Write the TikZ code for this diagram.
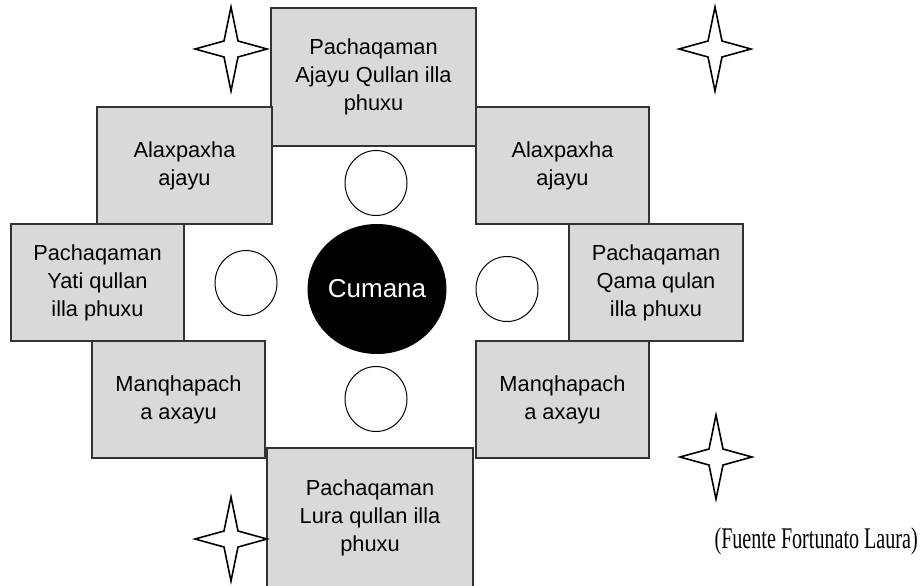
\documentclass[tikz,border=0pt]{standalone}
\usepackage{fontspec}
\setmainfont{Liberation Serif}
\setsansfont{Liberation Sans}
\usetikzlibrary{shapes.geometric}
\definecolor{boxfill}{HTML}{D9D9D9}
\definecolor{boxline}{HTML}{333333}
\tikzset{
  plot/.style={draw=boxline, fill=boxfill, line width=0.7pt, rectangle, align=center,
    inner sep=0pt, font=\sffamily\fontsize{10.9}{14}\selectfont},
  seat/.style={draw, ellipse, line width=0.5pt, minimum width=31pt, minimum height=32.5pt, inner sep=0pt},
  starline/.style={draw, line width=0.8pt, line join=miter}
}
\begin{document}
\begin{tikzpicture}[x=0.5pt, y=-0.5pt]
  \useasboundingbox (0,0) rectangle (921,585);
  \begin{scope}
  \clip (0,0) rectangle (921,585);
  % plots round the cumana
  \node[plot, minimum width=102.5pt, minimum height=69pt] (ajayu) at (373.5,77) {Pachaqaman\\Ajayu Qullan illa\\phuxu};
  \node[plot, minimum width=87.5pt, minimum height=58.5pt] (alaxl) at (184.5,165.5) {Alaxpaxha\\ajayu};
  \node[plot, minimum width=86.5pt, minimum height=58.5pt] (alaxr) at (562.5,165.5) {Alaxpaxha\\ajayu};
  \node[plot, minimum width=86.5pt, minimum height=58.5pt] (yati) at (97.5,282.5) {Pachaqaman\\Yati qullan\\illa phuxu};
  \node[plot, minimum width=87pt, minimum height=58.5pt] (qama) at (656,282.5) {Pachaqaman\\Qama qulan\\illa phuxu};
  \node[plot, minimum width=86.5pt, minimum height=58.5pt] (manql) at (178.5,399.5) {Manqhapach\\a axayu};
  \node[plot, minimum width=86.5pt, minimum height=58.5pt] (manqr) at (562.5,399.5) {Manqhapach\\a axayu};
  \node[plot, minimum width=103pt, minimum height=70pt] (lura) at (370,518) {Pachaqaman\\Lura qullan illa\\phuxu};
  \end{scope}

  % centre and seats
  \node[ellipse, fill=black, minimum width=68pt, minimum height=65pt, inner sep=0pt,
    text=white, font=\sffamily\fontsize{13}{15}\selectfont] (cumana) at (377,289) {Cumana};
  \node[seat] (up) at (376,183) {};
  \node[seat] (down) at (376,399) {};
  \node[seat] (left) at (246,283) {};
  \node[seat] (right) at (507,289) {};

  % stars
  \coordinate (s1) at (231,49); \coordinate (s2) at (715,49);
  \coordinate (s3) at (716,457); \coordinate (s4) at (231,539);
  \foreach \i in {1,...,4}
    \draw[starline, fill=white, shift={(s\i)}] (0,-42) -- (7,-8) -- (36,0) -- (7,8) -- (0,42)
      -- (-7,8) -- (-36,0) -- (-7,-8) -- cycle;

  \node[font=\fontsize{15}{17}\selectfont, inner sep=0pt, anchor=east, xscale=0.67] (src) at (918,541) {(Fuente Fortunato Laura)};
\end{tikzpicture}
\end{document}
